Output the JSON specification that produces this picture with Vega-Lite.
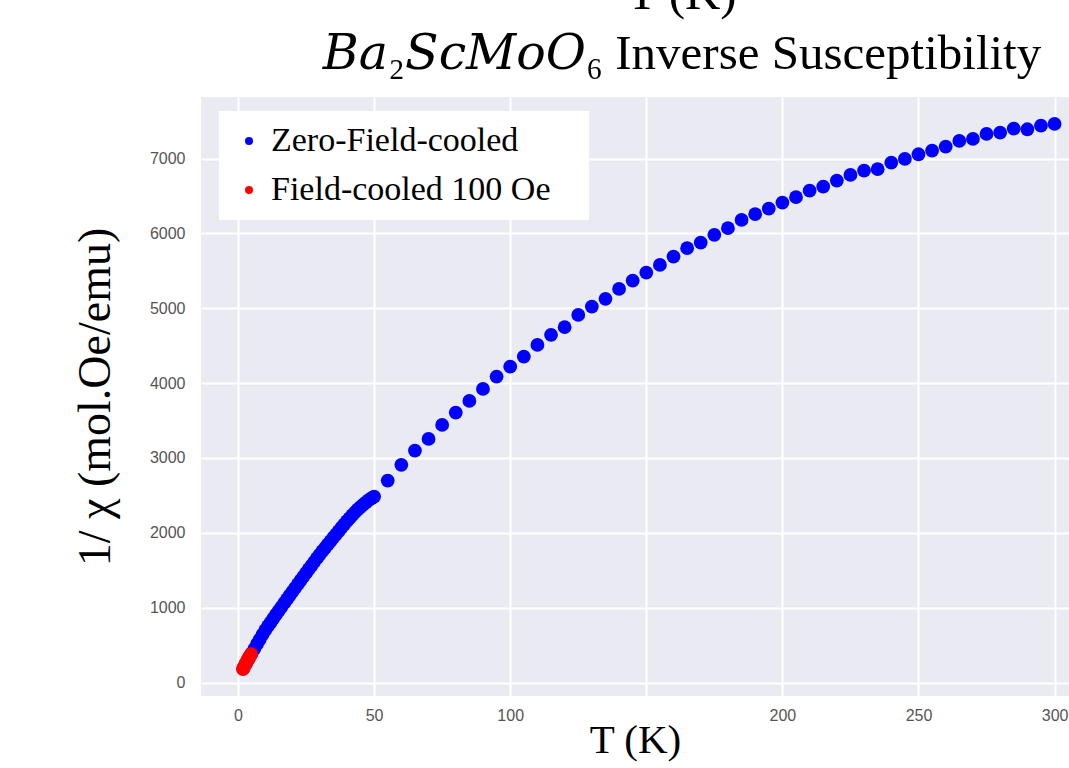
{
  "$schema": "https://vega.github.io/schema/vega-lite/v6.json",
  "width": 868,
  "height": 599,
  "autosize": {"type": "none"},
  "padding": {"left": 201, "top": 97, "right": 0, "bottom": 72},
  "background": "white",
  "title": {
    "text": ["T (K)", "𝐵𝑎₂𝑆𝑐𝑀𝑜𝑂₆ Inverse Susceptibility"],
    "font": "Liberation Serif, DejaVu Serif, serif",
    "fontSize": 49,
    "fontWeight": "normal",
    "color": "black",
    "anchor": "middle",
    "dx": 47,
    "lineHeight": 60,
    "offset": 18
  },
  "config": {
    "view": {"fill": "#EAEAF2", "stroke": null},
    "axis": {
      "domain": false,
      "ticks": false,
      "grid": true,
      "gridColor": "white",
      "gridWidth": 2,
      "labelFont": "Liberation Sans",
      "labelFontSize": 16,
      "labelColor": "#555555",
      "titleFont": "Liberation Serif",
      "titleFontWeight": "normal",
      "titleColor": "black"
    }
  },
  "data": {
    "values": [
      {"T": 2, "chi_inv": 190, "series": "Zero-Field-cooled"},
      {"T": 3, "chi_inv": 255, "series": "Zero-Field-cooled"},
      {"T": 4, "chi_inv": 320, "series": "Zero-Field-cooled"},
      {"T": 5, "chi_inv": 390, "series": "Zero-Field-cooled"},
      {"T": 6, "chi_inv": 450, "series": "Zero-Field-cooled"},
      {"T": 7, "chi_inv": 515, "series": "Zero-Field-cooled"},
      {"T": 8, "chi_inv": 575, "series": "Zero-Field-cooled"},
      {"T": 9, "chi_inv": 640, "series": "Zero-Field-cooled"},
      {"T": 10, "chi_inv": 700, "series": "Zero-Field-cooled"},
      {"T": 11, "chi_inv": 752, "series": "Zero-Field-cooled"},
      {"T": 12, "chi_inv": 805, "series": "Zero-Field-cooled"},
      {"T": 13, "chi_inv": 858, "series": "Zero-Field-cooled"},
      {"T": 14, "chi_inv": 910, "series": "Zero-Field-cooled"},
      {"T": 15, "chi_inv": 962, "series": "Zero-Field-cooled"},
      {"T": 16, "chi_inv": 1012, "series": "Zero-Field-cooled"},
      {"T": 17, "chi_inv": 1063, "series": "Zero-Field-cooled"},
      {"T": 18, "chi_inv": 1115, "series": "Zero-Field-cooled"},
      {"T": 19, "chi_inv": 1165, "series": "Zero-Field-cooled"},
      {"T": 20, "chi_inv": 1215, "series": "Zero-Field-cooled"},
      {"T": 21, "chi_inv": 1266, "series": "Zero-Field-cooled"},
      {"T": 22, "chi_inv": 1316, "series": "Zero-Field-cooled"},
      {"T": 23, "chi_inv": 1366, "series": "Zero-Field-cooled"},
      {"T": 24, "chi_inv": 1416, "series": "Zero-Field-cooled"},
      {"T": 25, "chi_inv": 1465, "series": "Zero-Field-cooled"},
      {"T": 26, "chi_inv": 1514, "series": "Zero-Field-cooled"},
      {"T": 27, "chi_inv": 1563, "series": "Zero-Field-cooled"},
      {"T": 28, "chi_inv": 1612, "series": "Zero-Field-cooled"},
      {"T": 29, "chi_inv": 1661, "series": "Zero-Field-cooled"},
      {"T": 30, "chi_inv": 1708, "series": "Zero-Field-cooled"},
      {"T": 31, "chi_inv": 1754, "series": "Zero-Field-cooled"},
      {"T": 32, "chi_inv": 1800, "series": "Zero-Field-cooled"},
      {"T": 33, "chi_inv": 1846, "series": "Zero-Field-cooled"},
      {"T": 34, "chi_inv": 1890, "series": "Zero-Field-cooled"},
      {"T": 35, "chi_inv": 1935, "series": "Zero-Field-cooled"},
      {"T": 36, "chi_inv": 1980, "series": "Zero-Field-cooled"},
      {"T": 37, "chi_inv": 2024, "series": "Zero-Field-cooled"},
      {"T": 38, "chi_inv": 2068, "series": "Zero-Field-cooled"},
      {"T": 39, "chi_inv": 2112, "series": "Zero-Field-cooled"},
      {"T": 40, "chi_inv": 2155, "series": "Zero-Field-cooled"},
      {"T": 41, "chi_inv": 2196, "series": "Zero-Field-cooled"},
      {"T": 42, "chi_inv": 2236, "series": "Zero-Field-cooled"},
      {"T": 43, "chi_inv": 2275, "series": "Zero-Field-cooled"},
      {"T": 44, "chi_inv": 2312, "series": "Zero-Field-cooled"},
      {"T": 45, "chi_inv": 2345, "series": "Zero-Field-cooled"},
      {"T": 46, "chi_inv": 2378, "series": "Zero-Field-cooled"},
      {"T": 47, "chi_inv": 2408, "series": "Zero-Field-cooled"},
      {"T": 48, "chi_inv": 2436, "series": "Zero-Field-cooled"},
      {"T": 49, "chi_inv": 2462, "series": "Zero-Field-cooled"},
      {"T": 50, "chi_inv": 2485, "series": "Zero-Field-cooled"},
      {"T": 55, "chi_inv": 2698, "series": "Zero-Field-cooled"},
      {"T": 60, "chi_inv": 2908, "series": "Zero-Field-cooled"},
      {"T": 65, "chi_inv": 3099, "series": "Zero-Field-cooled"},
      {"T": 70, "chi_inv": 3255, "series": "Zero-Field-cooled"},
      {"T": 75, "chi_inv": 3442, "series": "Zero-Field-cooled"},
      {"T": 80, "chi_inv": 3607, "series": "Zero-Field-cooled"},
      {"T": 85, "chi_inv": 3763, "series": "Zero-Field-cooled"},
      {"T": 90, "chi_inv": 3923, "series": "Zero-Field-cooled"},
      {"T": 95, "chi_inv": 4088, "series": "Zero-Field-cooled"},
      {"T": 100, "chi_inv": 4221, "series": "Zero-Field-cooled"},
      {"T": 105, "chi_inv": 4355, "series": "Zero-Field-cooled"},
      {"T": 110, "chi_inv": 4511, "series": "Zero-Field-cooled"},
      {"T": 115, "chi_inv": 4645, "series": "Zero-Field-cooled"},
      {"T": 120, "chi_inv": 4747, "series": "Zero-Field-cooled"},
      {"T": 125, "chi_inv": 4912, "series": "Zero-Field-cooled"},
      {"T": 130, "chi_inv": 5023, "series": "Zero-Field-cooled"},
      {"T": 135, "chi_inv": 5126, "series": "Zero-Field-cooled"},
      {"T": 140, "chi_inv": 5259, "series": "Zero-Field-cooled"},
      {"T": 145, "chi_inv": 5370, "series": "Zero-Field-cooled"},
      {"T": 150, "chi_inv": 5477, "series": "Zero-Field-cooled"},
      {"T": 155, "chi_inv": 5580, "series": "Zero-Field-cooled"},
      {"T": 160, "chi_inv": 5691, "series": "Zero-Field-cooled"},
      {"T": 165, "chi_inv": 5803, "series": "Zero-Field-cooled"},
      {"T": 170, "chi_inv": 5878, "series": "Zero-Field-cooled"},
      {"T": 175, "chi_inv": 5981, "series": "Zero-Field-cooled"},
      {"T": 180, "chi_inv": 6070, "series": "Zero-Field-cooled"},
      {"T": 185, "chi_inv": 6181, "series": "Zero-Field-cooled"},
      {"T": 190, "chi_inv": 6257, "series": "Zero-Field-cooled"},
      {"T": 195, "chi_inv": 6332, "series": "Zero-Field-cooled"},
      {"T": 200, "chi_inv": 6412, "series": "Zero-Field-cooled"},
      {"T": 205, "chi_inv": 6484, "series": "Zero-Field-cooled"},
      {"T": 210, "chi_inv": 6572, "series": "Zero-Field-cooled"},
      {"T": 215, "chi_inv": 6626, "series": "Zero-Field-cooled"},
      {"T": 220, "chi_inv": 6706, "series": "Zero-Field-cooled"},
      {"T": 225, "chi_inv": 6782, "series": "Zero-Field-cooled"},
      {"T": 230, "chi_inv": 6840, "series": "Zero-Field-cooled"},
      {"T": 235, "chi_inv": 6858, "series": "Zero-Field-cooled"},
      {"T": 240, "chi_inv": 6946, "series": "Zero-Field-cooled"},
      {"T": 245, "chi_inv": 6996, "series": "Zero-Field-cooled"},
      {"T": 250, "chi_inv": 7058, "series": "Zero-Field-cooled"},
      {"T": 255, "chi_inv": 7107, "series": "Zero-Field-cooled"},
      {"T": 260, "chi_inv": 7160, "series": "Zero-Field-cooled"},
      {"T": 265, "chi_inv": 7236, "series": "Zero-Field-cooled"},
      {"T": 270, "chi_inv": 7263, "series": "Zero-Field-cooled"},
      {"T": 275, "chi_inv": 7330, "series": "Zero-Field-cooled"},
      {"T": 280, "chi_inv": 7347, "series": "Zero-Field-cooled"},
      {"T": 285, "chi_inv": 7401, "series": "Zero-Field-cooled"},
      {"T": 290, "chi_inv": 7392, "series": "Zero-Field-cooled"},
      {"T": 295, "chi_inv": 7440, "series": "Zero-Field-cooled"},
      {"T": 300, "chi_inv": 7463, "series": "Zero-Field-cooled"},
      {"T": 1.8, "chi_inv": 180, "series": "Field-cooled 100 Oe"},
      {"T": 2.1, "chi_inv": 200, "series": "Field-cooled 100 Oe"},
      {"T": 2.4, "chi_inv": 222, "series": "Field-cooled 100 Oe"},
      {"T": 2.7, "chi_inv": 245, "series": "Field-cooled 100 Oe"},
      {"T": 3.0, "chi_inv": 265, "series": "Field-cooled 100 Oe"},
      {"T": 3.3, "chi_inv": 285, "series": "Field-cooled 100 Oe"},
      {"T": 3.6, "chi_inv": 305, "series": "Field-cooled 100 Oe"},
      {"T": 3.9, "chi_inv": 325, "series": "Field-cooled 100 Oe"},
      {"T": 4.2, "chi_inv": 345, "series": "Field-cooled 100 Oe"},
      {"T": 4.5, "chi_inv": 362, "series": "Field-cooled 100 Oe"},
      {"T": 4.8, "chi_inv": 378, "series": "Field-cooled 100 Oe"}
    ]
  },
  "mark": {"type": "point", "filled": true, "opacity": 1, "size": 190, "shape": "circle", "strokeWidth": 0},
  "encoding": {
    "x": {
      "field": "T",
      "type": "quantitative",
      "scale": {"domain": [-13.6, 305.3], "nice": false, "zero": false},
      "axis": {
        "title": "T (K)",
        "titleFontSize": 41,
        "values": [0, 50, 100, 150, 200, 250, 300],
        "labelExpr": "datum.value == 150 ? '' : datum.label",
        "labelPadding": 11,
        "titlePadding": -3
      }
    },
    "y": {
      "field": "chi_inv",
      "type": "quantitative",
      "scale": {"domain": [-180, 7823], "nice": false, "zero": false},
      "axis": {
        "title": "1/ χ (mol.Oe/emu)",
        "titleFontSize": 46,
        "format": "d",
        "values": [0, 1000, 2000, 3000, 4000, 5000, 6000, 7000],
        "labelPadding": 16,
        "titlePadding": 30
      }
    },
    "color": {
      "field": "series",
      "type": "nominal",
      "scale": {"domain": ["Zero-Field-cooled", "Field-cooled 100 Oe"], "range": ["#0000ff", "#ff0000"]},
      "legend": {
        "title": null,
        "orient": "none",
        "legendX": 18,
        "legendY": 14,
        "fillColor": "white",
        "strokeColor": null,
        "padding": 13,
        "symbolOffset": 0,
        "symbolSize": 64,
        "symbolType": "circle",
        "symbolStrokeWidth": 0,
        "labelFont": "Liberation Serif",
        "labelFontSize": 34,
        "labelColor": "black",
        "labelOffset": 5,
        "labelLimit": 0,
        "rowPadding": 15,
        "labelExpr": "datum.label + '\u2800'"
      }
    }
  }
}
